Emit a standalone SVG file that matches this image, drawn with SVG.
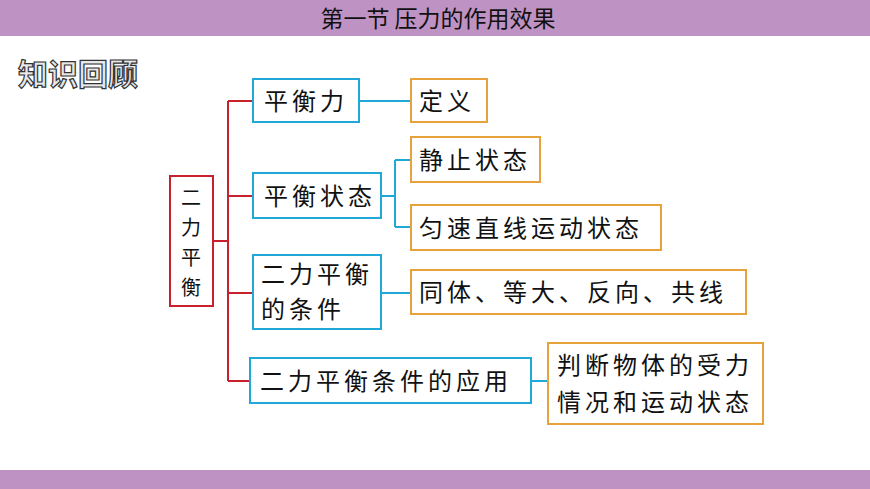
<svg xmlns="http://www.w3.org/2000/svg" width="870" height="489" viewBox="0 0 870 489">
<style>
text{font-family:"Noto Sans CJK SC","Noto Sans",sans-serif;fill:#111}
.t{font-size:24px;letter-spacing:4px}
.v{font-size:20px;text-anchor:middle}
.b{fill:#fff;stroke:#1FA8D8;stroke-width:2}
.o{fill:#fff;stroke:#E8A23C;stroke-width:2}
.r{fill:#fff;stroke:#C8202C;stroke-width:2}
.lr{stroke:#C8202C;stroke-width:2;fill:none}
.lb{stroke:#1FA8D8;stroke-width:2;fill:none}
</style>
<rect width="870" height="489" fill="#fff"/>
<rect width="870" height="36" fill="#BF92C4"/>
<rect y="470" width="870" height="19" fill="#BF92C4"/>
<text x="438" y="27" font-size="23" text-anchor="middle">第一节  压力的作用效果</text>
<text x="18" y="85" font-size="30" font-weight="bold" style="fill:#e8e8e8;stroke:#333;stroke-width:1.2">知识回顾</text>
<g id="connectors">
<path class="lr" d="M213 241H228M228 101V381M228 101H253M228 196H253M228 293H253M228 381H250"/>
<path class="lb" d="M359 101H411M381 196H395M395 160V227M395 160H411M395 227H411M381 293H411M531 381H548"/>
</g>
<g id="root"><rect class="r" x="170" y="176" width="43" height="130"/>
<text class="v" x="191" y="205">二</text>
<text class="v" x="191" y="235">力</text>
<text class="v" x="191" y="265">平</text>
<text class="v" x="191" y="295">衡</text></g>
<g id="n1"><rect class="b" x="253" y="79" width="106" height="43"/><text class="t" x="264" y="110">平衡力</text></g>
<g id="n2"><rect class="b" x="253" y="173" width="128" height="45"/><text class="t" x="264" y="205">平衡状态</text></g>
<g id="n3"><rect class="b" x="253" y="255" width="128" height="74"/><text class="t" x="261" y="283">二力平衡</text><text class="t" x="261" y="318">的条件</text></g>
<g id="n4"><rect class="b" x="250" y="358" width="281" height="45"/><text class="t" x="260" y="390">二力平衡条件的应用</text></g>
<g id="l1"><rect class="o" x="411" y="79" width="76" height="43"/><text class="t" x="419" y="110">定义</text></g>
<g id="l2"><rect class="o" x="411" y="137" width="129" height="45"/><text class="t" x="419" y="169">静止状态</text></g>
<g id="l3"><rect class="o" x="411" y="205" width="250" height="45"/><text class="t" x="419" y="237">匀速直线运动状态</text></g>
<g id="l4"><rect class="o" x="411" y="270" width="335" height="44"/><text class="t" x="419" y="301">同体、等大、反向、共线</text></g>
<g id="l5"><rect class="o" x="548" y="343" width="215" height="81"/><text class="t" x="557" y="374">判断物体的受力</text><text class="t" x="557" y="411">情况和运动状态</text></g>
</svg>
